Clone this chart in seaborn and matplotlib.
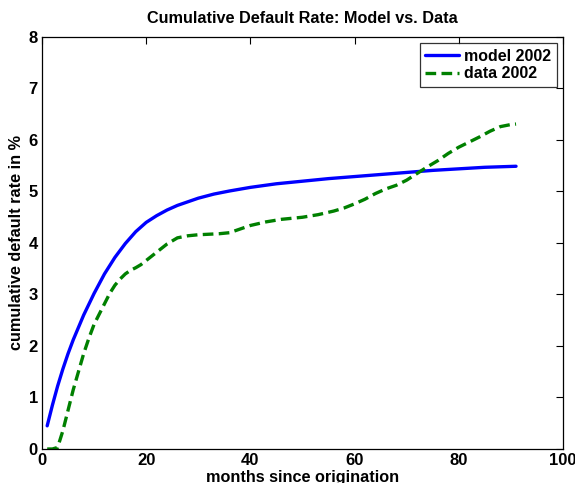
import pandas as pd
import matplotlib
matplotlib.use("Agg")
import matplotlib.pyplot as plt
import seaborn as sns

# ---------------------------------------------------------------------------
# Data
# ---------------------------------------------------------------------------

model_months = [1, 2, 3, 4, 5, 6, 8, 10, 12, 14, 16, 18, 20, 22, 24, 26, 28,
                30, 33, 36, 40, 45, 50, 55, 60, 65, 70, 75, 80, 85, 91]
model_rate = [0.45, 0.85, 1.22, 1.55, 1.85, 2.12, 2.6, 3.02, 3.4, 3.72, 3.99,
              4.22, 4.4, 4.53, 4.64, 4.73, 4.8, 4.87, 4.95, 5.01, 5.08, 5.15,
              5.2, 5.25, 5.29, 5.33, 5.37, 5.41, 5.44, 5.47, 5.49]

data_months = [1, 2, 3, 4, 5, 6, 7, 8, 9, 10, 11, 12, 13, 14, 15, 16, 17, 18,
               19, 20, 22, 24, 26, 28, 30, 32, 34, 36, 38, 40, 43, 46, 50, 53,
               56, 58, 60, 62, 64, 66, 68, 70, 72, 74, 76, 78, 80, 82, 84, 86,
               88, 90, 91]
data_rate = [0.0, 0.0, 0.03, 0.35, 0.75, 1.15, 1.5, 1.85, 2.15, 2.42, 2.62,
             2.82, 3.02, 3.18, 3.3, 3.4, 3.47, 3.52, 3.58, 3.66, 3.82, 3.98,
             4.1, 4.14, 4.16, 4.17, 4.18, 4.2, 4.27, 4.34, 4.41, 4.46, 4.5,
             4.55, 4.62, 4.68, 4.76, 4.85, 4.96, 5.05, 5.12, 5.22, 5.35, 5.48,
             5.6, 5.74, 5.86, 5.96, 6.06, 6.17, 6.26, 6.3, 6.31]

model_df = pd.DataFrame({"months": model_months, "rate": model_rate})
data_df = pd.DataFrame({"months": data_months, "rate": data_rate})

# ---------------------------------------------------------------------------
# Style
# ---------------------------------------------------------------------------

sns.set_theme(style="white")
plt.rcParams["font.family"] = ["Liberation Sans", "DejaVu Sans"]
plt.rcParams["font.weight"] = "bold"
plt.rcParams["axes.labelweight"] = "bold"
plt.rcParams["axes.titleweight"] = "bold"
plt.rcParams["text.color"] = "black"
plt.rcParams["axes.labelcolor"] = "black"

# ---------------------------------------------------------------------------
# Plot
# ---------------------------------------------------------------------------

fig = plt.figure(figsize=(5.75, 4.83), dpi=100)
ax = fig.add_axes([0.073, 0.0704, 0.906, 0.853])

sns.lineplot(data=model_df, x="months", y="rate", color="#0000ff",
             linewidth=2.4, label="model 2002", ax=ax)
sns.lineplot(data=data_df, x="months", y="rate", color="#008000",
             linewidth=2.4, linestyle=(0, (3.2, 1.6)), label="data 2002", ax=ax)

ax.set_xlim(0, 100)
ax.set_ylim(0, 8)
ax.set_xticks([0, 20, 40, 60, 80, 100])
ax.set_yticks(range(0, 9))
ax.tick_params(direction="in", length=5, width=0.8, top=True, right=True,
               labelsize=12, colors="black", pad=3)
for lab in ax.get_xticklabels() + ax.get_yticklabels():
    lab.set_fontweight("bold")
for spine in ax.spines.values():
    spine.set_color("black")
    spine.set_linewidth(0.9)

ax.set_title("Cumulative Default Rate: Model vs. Data", fontsize=11.7, pad=10,
             color="black")
ax.set_xlabel("months since origination", fontsize=11.7, labelpad=1,
              color="black")
ax.set_ylabel("cumulative default rate in %", fontsize=11.7, labelpad=3,
              color="black")

leg = ax.legend(loc="upper right", fontsize=11.5, frameon=True, fancybox=False,
                borderpad=0.35, handlelength=2.1, handletextpad=0.3,
                labelspacing=0.15, borderaxespad=0.4)
leg.get_frame().set_edgecolor("black")
leg.get_frame().set_linewidth(0.9)
for t in leg.get_texts():
    t.set_fontweight("bold")
    t.set_color("black")

fig.savefig("out.png", dpi=100)
